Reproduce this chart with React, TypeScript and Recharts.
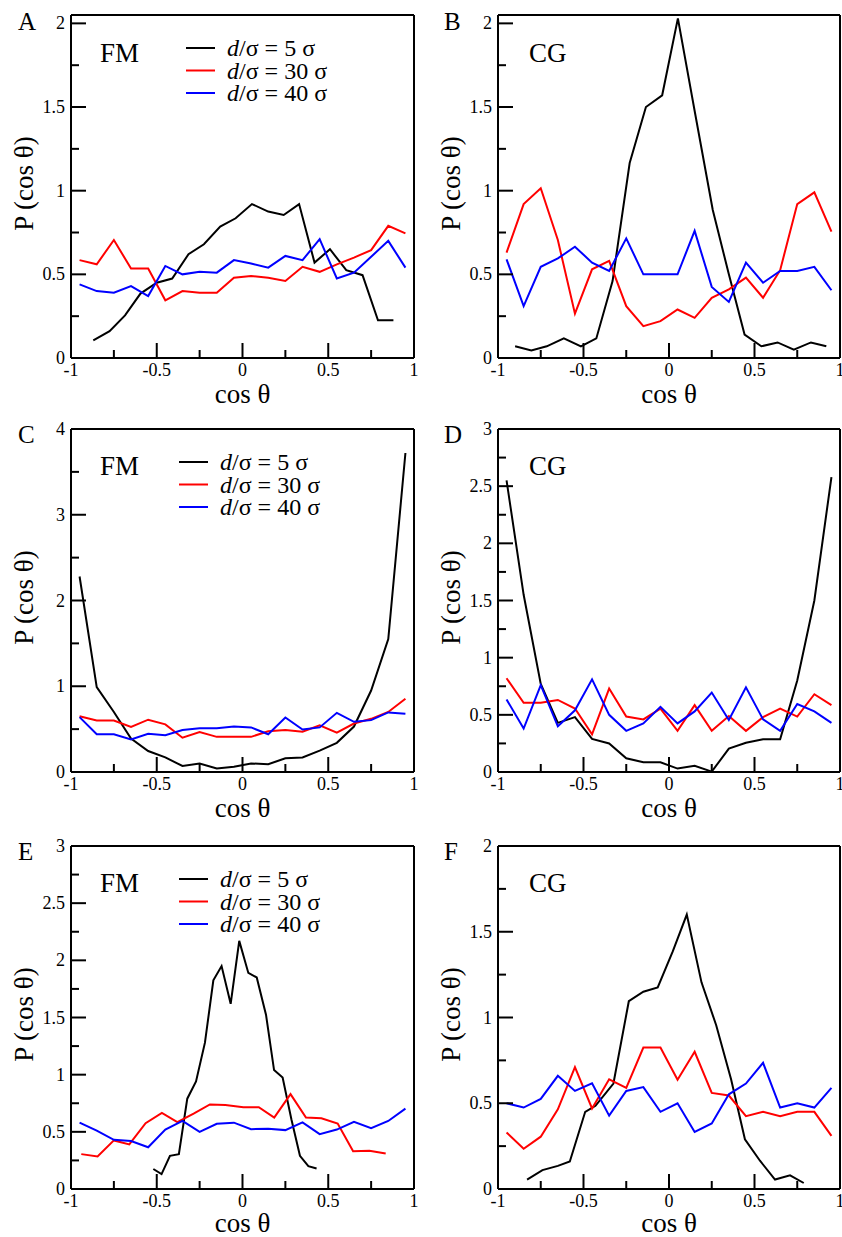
import React from 'react';
import { LineChart, Line, XAxis, YAxis, Legend } from 'recharts';

const FONT = '"Liberation Serif", "Times New Roman", Times, serif';
const BLACK = '#000000';
const RED = '#ff0000';
const BLUE = '#0000ff';

const seriesNames = ['5 σ', '30 σ', '40 σ'];

// shared bin centres of the 30 σ / 40 σ histograms
const bins = [-0.95, -0.85, -0.75, -0.65, -0.55, -0.45, -0.35, -0.25, -0.15, -0.05, 0.05, 0.15, 0.25, 0.35, 0.45, 0.55, 0.65, 0.75, 0.85, 0.95];

const cosTicks = [-1, -0.75, -0.5, -0.25, 0, 0.25, 0.5, 0.75, 1];
const ticks2 = [0, 0.25, 0.5, 0.75, 1, 1.25, 1.5, 1.75, 2];
const ticks3 = [0, 0.25, 0.5, 0.75, 1, 1.25, 1.5, 1.75, 2, 2.25, 2.5, 2.75, 3];
const ticks4 = [0, 0.5, 1, 1.5, 2, 2.5, 3, 3.5, 4];

// A - FM
const aBlackX = [-0.87, -0.775, -0.685, -0.595, -0.5, -0.41, -0.315, -0.225, -0.13, -0.04, 0.055, 0.15, 0.24, 0.33, 0.42, 0.51, 0.605, 0.7, 0.79, 0.88];
const aBlackY = [0.105, 0.16, 0.255, 0.385, 0.45, 0.475, 0.62, 0.68, 0.785, 0.835, 0.92, 0.875, 0.855, 0.92, 0.57, 0.65, 0.525, 0.495, 0.225, 0.225];
const aRedY = [0.585, 0.56, 0.705, 0.535, 0.535, 0.345, 0.4, 0.39, 0.39, 0.48, 0.49, 0.48, 0.46, 0.545, 0.515, 0.56, 0.6, 0.645, 0.79, 0.745];
const aBlueY = [0.44, 0.4, 0.39, 0.43, 0.37, 0.55, 0.5, 0.515, 0.51, 0.585, 0.565, 0.54, 0.61, 0.585, 0.71, 0.475, 0.51, 0.605, 0.7, 0.54];

// B - CG
const bBlackX = [-0.9, -0.805, -0.715, -0.615, -0.515, -0.425, -0.33, -0.23, -0.135, -0.04, 0.052, 0.153, 0.256, 0.35, 0.442, 0.54, 0.635, 0.73, 0.83, 0.92];
const bBlackY = [0.07, 0.045, 0.07, 0.117, 0.07, 0.117, 0.46, 1.165, 1.5, 1.57, 2.03, 1.46, 0.885, 0.5, 0.14, 0.07, 0.093, 0.05, 0.093, 0.07];
const bRedY = [0.63, 0.92, 1.015, 0.705, 0.265, 0.53, 0.58, 0.31, 0.19, 0.22, 0.29, 0.24, 0.36, 0.41, 0.48, 0.36, 0.525, 0.92, 0.99, 0.755];
const bBlueY = [0.59, 0.31, 0.545, 0.595, 0.665, 0.57, 0.52, 0.715, 0.5, 0.5, 0.5, 0.76, 0.425, 0.335, 0.57, 0.45, 0.52, 0.52, 0.545, 0.405];

// C - FM
const cBlackY = [2.28, 0.99, 0.7, 0.39, 0.245, 0.17, 0.07, 0.1, 0.04, 0.06, 0.1, 0.09, 0.16, 0.17, 0.25, 0.34, 0.53, 0.95, 1.55, 3.72];
const cRedY = [0.65, 0.6, 0.6, 0.525, 0.61, 0.555, 0.4, 0.465, 0.41, 0.41, 0.41, 0.475, 0.49, 0.47, 0.545, 0.46, 0.565, 0.62, 0.7, 0.855];
const cBlueY = [0.64, 0.44, 0.44, 0.38, 0.445, 0.43, 0.49, 0.51, 0.51, 0.53, 0.52, 0.44, 0.635, 0.495, 0.52, 0.69, 0.585, 0.605, 0.695, 0.68];

// D - CG
const dBlackY = [2.55, 1.55, 0.77, 0.43, 0.48, 0.29, 0.25, 0.12, 0.085, 0.085, 0.03, 0.055, 0.003, 0.205, 0.256, 0.286, 0.286, 0.8, 1.5, 2.58];
const dRedY = [0.82, 0.605, 0.605, 0.63, 0.555, 0.33, 0.73, 0.485, 0.46, 0.555, 0.36, 0.585, 0.36, 0.49, 0.36, 0.48, 0.555, 0.485, 0.68, 0.585];
const dBlueY = [0.635, 0.38, 0.76, 0.4, 0.54, 0.81, 0.5, 0.36, 0.425, 0.57, 0.425, 0.53, 0.695, 0.455, 0.74, 0.46, 0.36, 0.595, 0.53, 0.43];

// E - FM
const eBlackX = [-0.52, -0.472, -0.423, -0.371, -0.322, -0.271, -0.219, -0.17, -0.122, -0.069, -0.019, 0.034, 0.083, 0.137, 0.184, 0.234, 0.285, 0.335, 0.384, 0.432];
const eBlackY = [0.175, 0.13, 0.29, 0.305, 0.79, 0.94, 1.28, 1.825, 1.95, 1.62, 2.17, 1.89, 1.85, 1.525, 1.04, 0.975, 0.61, 0.29, 0.2, 0.18];
const eRedX = [-0.94, -0.845, -0.75, -0.66, -0.565, -0.47, -0.38, -0.285, -0.19, -0.1, 0.005, 0.095, 0.185, 0.28, 0.37, 0.46, 0.555, 0.645, 0.74, 0.835];
const eRedY = [0.305, 0.285, 0.425, 0.39, 0.575, 0.665, 0.585, 0.66, 0.74, 0.735, 0.715, 0.715, 0.625, 0.83, 0.625, 0.618, 0.572, 0.33, 0.335, 0.31];
const eBlueY = [0.58, 0.51, 0.43, 0.42, 0.365, 0.52, 0.595, 0.5, 0.57, 0.58, 0.523, 0.528, 0.515, 0.582, 0.48, 0.52, 0.588, 0.532, 0.595, 0.703];

// F - CG
const fBlackX = [-0.83, -0.74, -0.65, -0.58, -0.49, -0.43, -0.325, -0.235, -0.15, -0.066, 0.022, 0.104, 0.19, 0.276, 0.363, 0.444, 0.532, 0.62, 0.708, 0.788];
const fBlackY = [0.055, 0.11, 0.135, 0.16, 0.45, 0.485, 0.615, 1.095, 1.15, 1.175, 1.385, 1.6, 1.205, 0.955, 0.64, 0.29, 0.165, 0.055, 0.08, 0.035];
const fRedY = [0.33, 0.235, 0.305, 0.465, 0.71, 0.47, 0.64, 0.59, 0.825, 0.825, 0.637, 0.8, 0.56, 0.545, 0.425, 0.45, 0.425, 0.45, 0.45, 0.31];
const fBlueY = [0.5, 0.475, 0.525, 0.66, 0.572, 0.616, 0.428, 0.572, 0.594, 0.45, 0.5, 0.333, 0.382, 0.552, 0.615, 0.736, 0.475, 0.5, 0.475, 0.59];

type Series = { name: string; color: string; xs: number[]; ys: number[] };

const toPoints = (xs: number[], ys: number[]) => xs.map((x, i) => ({ x, y: ys[i] }));

const three = (bx: number[], by: number[], rx: number[], ry: number[], ux: number[], uy: number[]): Series[] => [
  { name: seriesNames[0], color: BLACK, xs: bx, ys: by },
  { name: seriesNames[1], color: RED, xs: rx, ys: ry },
  { name: seriesNames[2], color: BLUE, xs: ux, ys: uy },
];

const AXIS = { stroke: BLACK, strokeWidth: 2 };
const MAJOR = 15;
const MINOR = 8;

const isMajor = (v: number, step: number) => Math.abs(v / step - Math.round(v / step)) < 1e-6;

const makeTick = (side: 'bottom' | 'top' | 'left' | 'right', step: number) => (props: any) => {
  const { x, y, payload } = props;
  const v = payload.value as number;
  const major = isMajor(v, step);
  const len = major ? MAJOR : MINOR;
  const line = { stroke: BLACK, strokeWidth: 2 };
  if (side === 'bottom') {
    return (
      <g>
        <line x1={x} y1={y} x2={x} y2={y - len} {...line} />
        {major && (
          <text x={x} y={y + 18} textAnchor="middle" fontFamily={FONT} fontSize={18} fill={BLACK}>
            {String(v)}
          </text>
        )}
      </g>
    );
  }
  if (side === 'top') return <line x1={x} y1={y} x2={x} y2={y + len} {...line} />;
  if (side === 'left') {
    return (
      <g>
        <line x1={x} y1={y} x2={x + len} y2={y} {...line} />
        {major && (
          <text x={x - 6} y={y + 6} textAnchor="end" fontFamily={FONT} fontSize={18} fill={BLACK}>
            {String(v)}
          </text>
        )}
      </g>
    );
  }
  return <line x1={x} y1={y} x2={x - len} y2={y} {...line} />;
};

const makeXTitle = (gap: number) => (props: any) => {
  const vb = props.viewBox;
  return (
    <text x={vb.x + vb.width / 2} y={vb.y + gap} textAnchor="middle" fontFamily={FONT} fontSize={27} fill={BLACK}>
      cos θ
    </text>
  );
};

const yTitle = (props: any) => {
  const vb = props.viewBox;
  const cx = vb.x + vb.width - 38;
  const cy = vb.y + vb.height / 2 - 3;
  return (
    <text transform={`translate(${cx},${cy}) rotate(-90)`} textAnchor="middle" fontFamily={FONT} fontSize={27} fill={BLACK}>
      P (cos θ)
    </text>
  );
};

const LegendBox = (props: any) => {
  const payload = [...(props.payload || [])].sort(
    (a: any, b: any) => seriesNames.indexOf(a.value) - seriesNames.indexOf(b.value)
  );
  return (
    <svg width={230} height={70} style={{ display: 'block', overflow: 'visible' }}>
      {payload.map((p: any, i: number) => (
        <g key={i}>
          <line x1={0} y1={11 + i * 22.5} x2={29} y2={11 + i * 22.5} stroke={p.color} strokeWidth={2} />
          <text x={41} y={19 + i * 22.5} fontFamily={FONT} fontSize={24} fill={BLACK}>
            <tspan fontStyle="italic">d</tspan>/σ = {p.value}
          </text>
        </g>
      ))}
    </svg>
  );
};

interface PanelProps {
  letter: string;
  method: string;
  left: number;
  top: number;
  height: number;
  plotLeft: number;
  rightMargin: number;
  yMax: number;
  yTicks: number[];
  yStep: number;
  series: Series[];
  legendLeft?: number;
  letterX: number;
  methodX: number;
  dy: number;
  titleGap: number;
}

const Panel = (p: PanelProps) => {
  const xAxisH = p.height - 15 - 343;
  return (
    <div style={{ position: 'absolute', left: p.left, top: p.top, width: 421, height: p.height }}>
      <LineChart width={421} height={p.height} margin={{ top: 14, right: p.rightMargin, bottom: 0, left: 0 }}>
        <XAxis
          xAxisId={0}
          type="number"
          dataKey="x"
          domain={[-1, 1]}
          ticks={cosTicks}
          interval={0}
          height={xAxisH}
          tickSize={0}
          tickMargin={0}
          tickLine={false}
          axisLine={AXIS}
          tick={makeTick('bottom', 0.5)}
          label={makeXTitle(p.titleGap)}
        />
        <XAxis
          xAxisId="top"
          orientation="top"
          type="number"
          domain={[-1, 1]}
          ticks={cosTicks}
          interval={0}
          height={1}
          tickSize={0}
          tickMargin={0}
          tickLine={false}
          axisLine={AXIS}
          tick={makeTick('top', 0.5)}
        />
        <YAxis
          yAxisId={0}
          type="number"
          domain={[0, p.yMax]}
          ticks={p.yTicks}
          interval={0}
          width={p.plotLeft}
          tickSize={0}
          tickMargin={0}
          tickLine={false}
          axisLine={AXIS}
          tick={makeTick('left', p.yStep)}
          label={yTitle}
        />
        <YAxis
          yAxisId="right"
          orientation="right"
          type="number"
          domain={[0, p.yMax]}
          ticks={p.yTicks}
          interval={0}
          width={1}
          tickSize={0}
          tickMargin={0}
          tickLine={false}
          axisLine={AXIS}
          tick={makeTick('right', p.yStep)}
        />
        {p.series.map((s) => (
          <Line
            key={s.name}
            xAxisId={0}
            yAxisId={0}
            type="linear"
            data={toPoints(s.xs, s.ys)}
            dataKey="y"
            name={s.name}
            stroke={s.color}
            strokeWidth={2}
            dot={false}
            activeDot={false}
            isAnimationActive={false}
          />
        ))}
        {p.legendLeft !== undefined && (
          <Legend
            layout="vertical"
            align="center"
            verticalAlign="middle"
            wrapperStyle={{ left: p.legendLeft, top: 37, width: 230, height: 70 }}
            content={LegendBox}
          />
        )}
      </LineChart>
      <svg width={421} height={80} style={{ position: 'absolute', left: 0, top: 0, pointerEvents: 'none' }}>
        <text x={p.letterX} y={30 - p.dy} fontFamily={FONT} fontSize={25} fill={BLACK}>
          {p.letter}
        </text>
        <text x={p.methodX} y={62 - p.dy} fontFamily={FONT} fontSize={27} fill={BLACK}>
          {p.method}
        </text>
      </svg>
    </div>
  );
};

const App = () => {
  const leftCol = { left: 0, plotLeft: 71, rightMargin: 6, letterX: 18, methodX: 100 };
  const rightCol = { left: 421, plotLeft: 77, rightMargin: 1, letterX: 23, methodX: 108 };
  return (
    <div style={{ position: 'absolute', left: 0, top: 0, width: 842, height: 1237, overflow: 'hidden', background: '#fff' }}>
      <Panel {...leftCol} top={0} height={410} dy={0} titleGap={45} letter="A" method="FM" yMax={2.05} yTicks={ticks2} yStep={0.5}
        series={three(aBlackX, aBlackY, bins, aRedY, bins, aBlueY)} legendLeft={186} />
      <Panel {...rightCol} top={0} height={410} dy={0} titleGap={45} letter="B" method="CG" yMax={2.05} yTicks={ticks2} yStep={0.5}
        series={three(bBlackX, bBlackY, bins, bRedY, bins, bBlueY)} />
      <Panel {...leftCol} top={414} height={410} dy={1} titleGap={45} letter="C" method="FM" yMax={4} yTicks={ticks4} yStep={1}
        series={three(bins, cBlackY, bins, cRedY, bins, cBlueY)} legendLeft={179} />
      <Panel {...rightCol} top={414} height={410} dy={1} titleGap={45} letter="D" method="CG" yMax={3} yTicks={ticks3} yStep={0.5}
        series={three(bins, dBlackY, bins, dRedY, bins, dBlueY)} />
      <Panel {...leftCol} top={831} height={406} dy={1} titleGap={43} letter="E" method="FM" yMax={3} yTicks={ticks3} yStep={0.5}
        series={three(eBlackX, eBlackY, eRedX, eRedY, bins, eBlueY)} legendLeft={179} />
      <Panel {...rightCol} top={831} height={406} dy={1} titleGap={43} letter="F" method="CG" yMax={2} yTicks={ticks2} yStep={0.5}
        series={three(fBlackX, fBlackY, bins, fRedY, bins, fBlueY)} />
    </div>
  );
};

export default App;
